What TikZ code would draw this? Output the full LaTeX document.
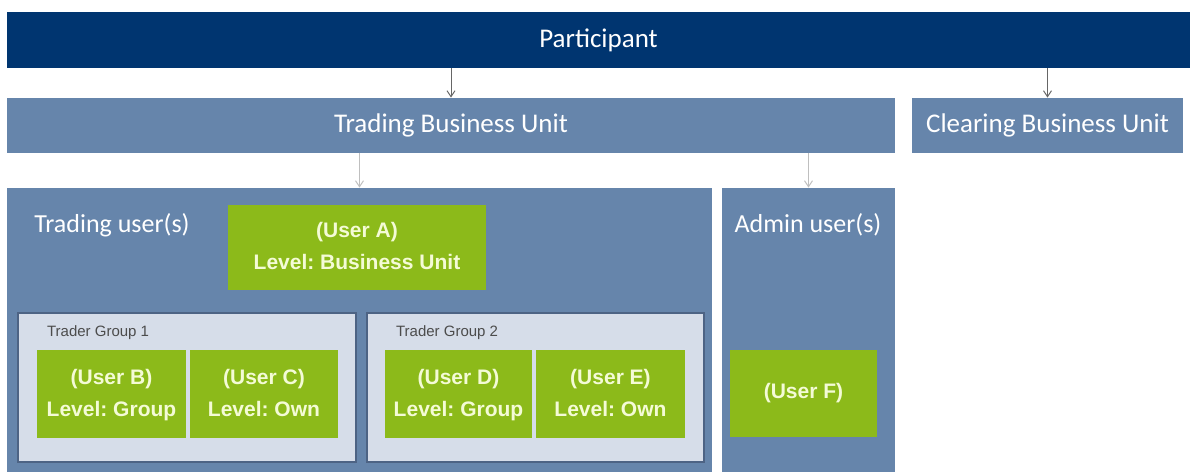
\documentclass[tikz,border=0pt]{standalone}
\usepackage{fontspec}
\setmainfont{Carlito}
\newfontfamily\arialfont{Liberation Sans}
\frenchspacing
\definecolor{navy}{HTML}{003570}
\definecolor{steel}{HTML}{6685AB}
\definecolor{leaf}{HTML}{8CBA1A}
\definecolor{pale}{HTML}{D6DDE9}
\definecolor{rim}{HTML}{4D6384}
\definecolor{leaftext}{HTML}{F4FBD6}
\tikzset{
  top/.style    = { fill=navy, text=white, font=\fontsize{13.5}{16}\selectfont },
  unit/.style   = { fill=steel, text=white, font=\fontsize{13.5}{16}\selectfont },
  pane/.style   = { fill=steel },
  group/.style  = { fill=pale, draw=rim, line width=1.2pt },
  user/.style   = { fill=leaf, text=leaftext, align=center,
                    font=\arialfont\bfseries\fontsize{10.5}{16}\selectfont },
  title/.style  = { text=white, font=\fontsize{13}{15}\selectfont },
  tag/.style    = { text=black!70, font=\arialfont\fontsize{7.5}{9}\selectfont, anchor=west },
  link/.style   = { -{Straight Barb[length=3pt,width=4pt]}, line width=0.5pt, black!60 },
  linklt/.style = { link, black!25 }
}
\usetikzlibrary{arrows.meta}
\begin{document}
\begin{tikzpicture}[x=0.5pt,y=-0.5pt]
    \useasboundingbox (0,0) rectangle (1190,472);
    \fill[white] (0,0) rectangle (1190,472);

    \node[top, minimum width=591.5pt, minimum height=28pt] (part) at (598.5,40) {Participant};
    \node[unit, minimum width=444pt, minimum height=27.5pt] (tbu) at (451,125.5) {Trading Business Unit};
    \node[unit, minimum width=135.5pt, minimum height=27.5pt] (cbu) at (1047.5,125.5) {Clearing Business Unit};

    \node[pane, minimum width=352.5pt, minimum height=142pt] (trade) at (359.5,330) {};
    \node[pane, minimum width=86.5pt, minimum height=142pt] (admin) at (808.5,330) {};
    \node[title] (tradet) at (112,225) {Trading user(s)};
    \node[title] (admint) at (808,225) {Admin user(s)};

    \node[user, minimum width=129pt, minimum height=42.5pt] (usera) at (357,247.5) {\strut(User A)\\Level: Business Unit\strut};

    \node[group, minimum width=169pt, minimum height=74.5pt] (grp1) at (187,387.5) {};
    \node[group, minimum width=168.5pt, minimum height=74.5pt] (grp2) at (535.5,387.5) {};
    \node[tag] (grp1t) at (40,333) {Trader Group 1};
    \node[tag] (grp2t) at (389,333) {Trader Group 2};

    \node[user, minimum width=74.5pt, minimum height=44pt] (userb) at (111.5,394) {\strut(User B)\\Level: Group\strut};
    \node[user, minimum width=74pt, minimum height=44pt] (userc) at (264,394) {\strut(User C)\\Level: Own\strut};
    \node[user, minimum width=73.5pt, minimum height=44pt] (userd) at (458.5,394) {\strut(User D)\\Level: Group\strut};
    \node[user, minimum width=74.5pt, minimum height=44pt] (usere) at (610.5,394) {\strut(User E)\\Level: Own\strut};
    \node[user, minimum width=73.5pt, minimum height=43.5pt] (userf) at (803.5,393.5) {(User F)};

    \draw[link] (part.south -| tbu) -- (tbu.north);
    \draw[link] (part.south -| cbu) -- (cbu.north);
    \draw[linklt] (tbu.south -| trade) -- (trade.north);
    \draw[linklt] (tbu.south -| admin) -- (admin.north);
\end{tikzpicture}
\end{document}
